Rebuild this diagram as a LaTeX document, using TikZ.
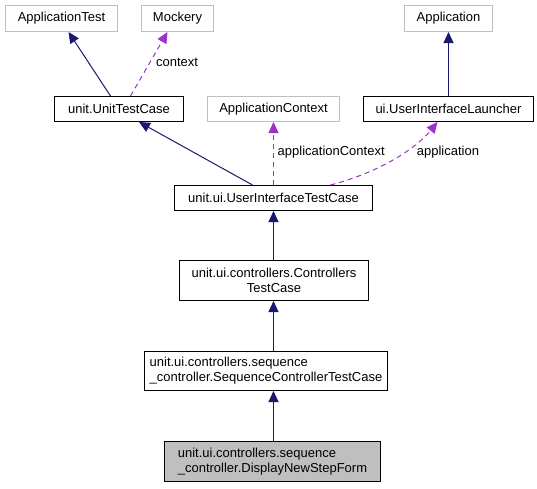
\documentclass[tikz,border=0pt]{standalone}
\usepackage{fontspec}
\setmainfont{Liberation Sans}
\usetikzlibrary{arrows.meta,calc}
\definecolor{navyedge}{HTML}{191970}
\definecolor{purpedge}{HTML}{9A32CD}
\definecolor{graybord}{HTML}{BFBFBF}
\begin{document}
\begin{tikzpicture}[x=1pt,y=-1pt,
  every node/.style={font=\fontsize{13}{15}\selectfont},
  cls/.style={draw=black,line width=1pt,rectangle,inner sep=0pt,align=center},
  ext/.style={draw=graybord,line width=1pt,rectangle,inner sep=0pt,align=center},
  cur/.style={draw=black,fill=graybord,line width=1pt,rectangle,inner sep=0pt,align=left},
  inh/.style={draw=navyedge,line width=1pt,-{Triangle[length=11pt,width=10pt]}},
  use/.style={draw=purpedge,line width=1pt,dash pattern=on 5pt off 4pt,-{Triangle[length=11pt,width=10pt]}},
  lab/.style={inner sep=0pt,text=black}]
\useasboundingbox (-0.5,-0.5) rectangle (536.5,487.5);
\node[ext,minimum width=112pt,minimum height=26pt] (at) at (61,18) {ApplicationTest};
\node[ext,minimum width=72pt,minimum height=26pt] (mk) at (177,18) {Mockery};
\node[ext,minimum width=88pt,minimum height=26pt] (app) at (448,18) {Application};
\node[cls,minimum width=129pt,minimum height=25pt] (utc) at (118.5,108.5) {unit.UnitTestCase};
\node[ext,minimum width=132pt,minimum height=25pt] (ac) at (273,108.5) {ApplicationContext};
\node[cls,minimum width=170pt,minimum height=25pt] (uil) at (448,108.5) {ui.UserInterfaceLauncher};
\node[cls,minimum width=198pt,minimum height=25pt] (uitc) at (273,197.5) {unit.ui.UserInterfaceTestCase};
\node[cls,minimum width=189pt,minimum height=40pt] (ctc) at (273.5,280) {unit.ui.controllers.Controllers\\TestCase};
\node[cls,align=left,minimum width=243pt,minimum height=39pt] (sct) at (265.5,370.5) {unit.ui.controllers.sequence\\\_controller.SequenceControllerTestCase};
\node[cur,minimum width=216pt,minimum height=40pt] (dns) at (272,461) {unit.ui.controllers.sequence\\\_controller.DisplayNewStepForm};
% edges
\draw[inh] ([xshift=-8.5pt]utc.north) -- ([xshift=7pt]at.south);
\draw[use] ([xshift=11.5pt]utc.north) -- ([xshift=-10pt]mk.south);
\node[lab] (lctx) at (176.5,62) {context};
\draw[inh] ([xshift=-21pt]uitc.north) -- ([xshift=20pt]utc.south);
\draw[use] (uitc.north) -- (ac.south);
\node[lab,anchor=west] (lac) at (277,152) {applicationContext};
\draw[use] ([xshift=57pt]uitc.north) .. controls (385,170) and (418,145) .. ([xshift=-11pt]uil.south);
\node[lab] (lapp) at (447.5,152) {application};
\draw[inh] (uil.north) -- (app.south);
\draw[inh] (ctc.north -| uitc.south) -- (uitc.south);
\draw[inh] (sct.north -| uitc.south) -- (ctc.south -| uitc.south);
\draw[inh] (dns.north -| uitc.south) -- (sct.south -| uitc.south);
\end{tikzpicture}
\end{document}
